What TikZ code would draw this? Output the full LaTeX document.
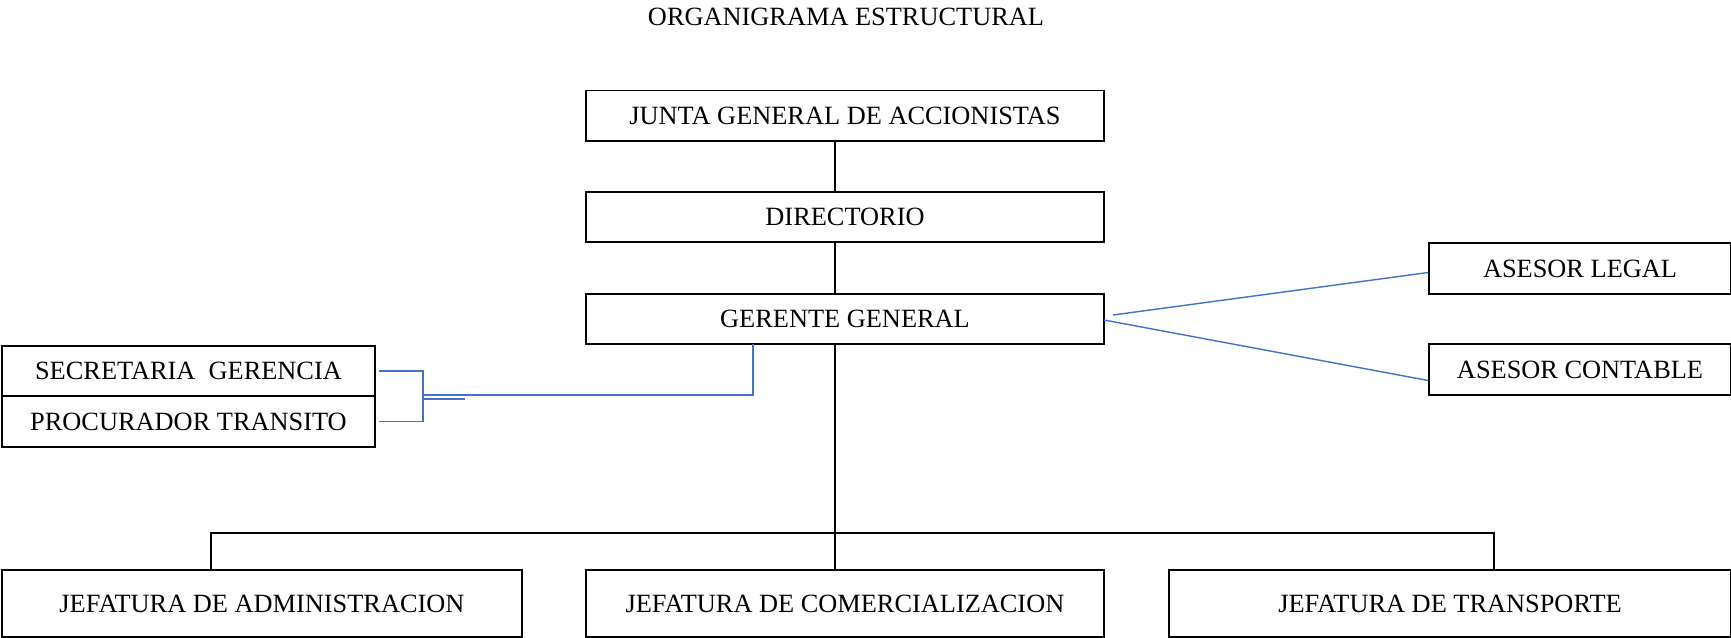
\documentclass[tikz,border=0pt]{standalone}
\usepackage{fontspec}
\setmainfont{Liberation Serif}
\usetikzlibrary{calc}

\begin{document}
\begin{tikzpicture}[x=0.02cm,y=-0.02cm,
    caja/.style={draw, line width=0.9pt, inner sep=0pt, minimum height=1.01cm,
                 font=\fontsize{15}{17}\selectfont},
    azul/.style={draw=lineablue, line width=0.8pt}]
            \definecolor{lineablue}{HTML}{4472C4}
            \useasboundingbox (0,0) rectangle (1731,637);
            \node[font=\fontsize{15}{17}\selectfont] (titulo) at (846,17) {ORGANIGRAMA ESTRUCTURAL};
            \node[caja, minimum width=10.36cm] (junta) at (845,115.75) {JUNTA GENERAL DE ACCIONISTAS};
            \node[caja, minimum width=10.36cm] (dir) at (845,217) {DIRECTORIO};
            \node[caja, minimum width=10.36cm] (ger) at (845,319) {GERENTE GENERAL};
            \node[caja, minimum width=6.04cm] (legal) at (1580,268.5) {ASESOR LEGAL};
            \node[caja, minimum width=6.04cm] (cont) at (1580,369.5) {ASESOR CONTABLE};
            \node[caja, minimum width=7.46cm] (secre) at (188.5,371) {SECRETARIA\ \ GERENCIA};
            \node[caja, minimum width=7.46cm] (procu) at (188.5,421.5) {PROCURADOR TRANSITO};
            \node[caja, minimum width=10.4cm, minimum height=1.34cm] (jadm) at (262,603.5) {JEFATURA DE ADMINISTRACION};
            \node[caja, minimum width=10.36cm, minimum height=1.34cm] (jcom) at (845,603.5) {JEFATURA DE COMERCIALIZACION};
            \node[caja, minimum width=11.24cm, minimum height=1.34cm] (jtra) at (1450,603.5) {JEFATURA DE TRANSPORTE};
            \coordinate (T) at (835,0);
            \coordinate (bus) at (835,533);
            \coordinate (bA) at (211,533);
            \coordinate (bT) at (1494,533);
            \coordinate (G) at (753,344);
            \coordinate (B) at (423,395);
            \coordinate (BB) at (465,399);
            \coordinate (GL) at (1113,315);
            \coordinate (GC) at (1104,320);
            \draw[line width=0.9pt] (junta.south -| T) -- (dir.north -| T);
            \draw[line width=0.9pt] (dir.south -| T) -- (ger.north -| T);
            \draw[line width=0.9pt] (ger.south -| T) -- (jcom.north -| T);
            \draw[line width=0.9pt] (jadm.north -| bA) -- (bA) -- (bT) -- (jtra.north -| bT);
            \draw[azul] (G) |- (B);
            \draw[azul] ($(secre.east)+(3,0)$) -| (B) |- ($(procu.east)+(3,0)$);
            \draw[azul] (B |- BB) -- (BB);
            \draw[azul] (GL) -- ($(legal.west)+(0,4)$);
            \draw[azul] (GC) -- ($(cont.west)+(0,11)$);
        \end{tikzpicture}
\end{document}
